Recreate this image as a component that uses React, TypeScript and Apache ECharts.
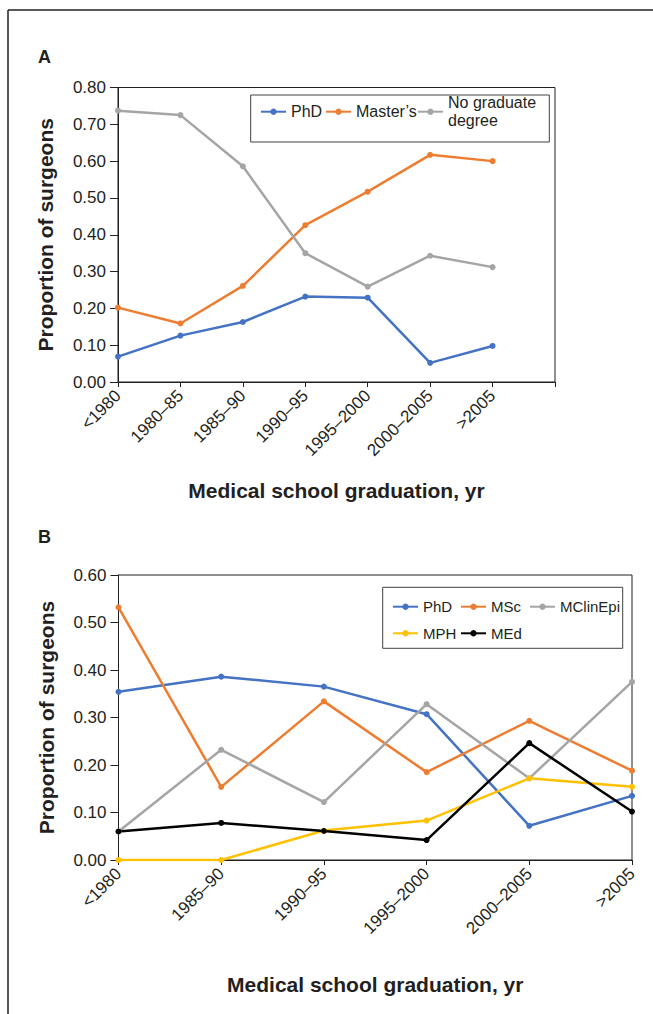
import React, { useEffect, useRef } from 'react';
import * as echarts from 'echarts';

// ---------- Data ----------
const categoriesA = ['<1980', '1980–85', '1985–90', '1990–95', '1995–2000', '2000–2005', '>2005', ''];
const phdA = [0.069, 0.126, 0.163, 0.232, 0.229, 0.052, 0.098];
const mastersA = [0.202, 0.159, 0.261, 0.426, 0.517, 0.617, 0.6];
const noGradA = [0.737, 0.725, 0.586, 0.35, 0.259, 0.343, 0.312];
const seriesNamesA = ['PhD', 'Master’s', 'No graduate degree'];

const categoriesB = ['<1980', '1985–90', '1990–95', '1995–2000', '2000–2005', '>2005'];
const phdB = [0.354, 0.386, 0.365, 0.307, 0.072, 0.135];
const mscB = [0.532, 0.154, 0.334, 0.185, 0.293, 0.188];
const mclinB = [0.06, 0.232, 0.122, 0.328, 0.172, 0.375];
const mphB = [0, 0, 0.062, 0.083, 0.172, 0.154];
const medB = [0.06, 0.078, 0.061, 0.042, 0.246, 0.102];
const seriesNamesB = ['PhD ', 'MSc', 'MClinEpi', 'MPH', 'MEd'];

const yMaxA = 0.8;
const yMaxB = 0.6;
const yStep = 0.1;
const xTitle = 'Medical school graduation, yr';
const yTitle = 'Proportion of surgeons';

// ---------- Styles ----------
const TEXT = '#231f20';
const FONT = '"Liberation Sans", Arial, Helvetica, sans-serif';
const BLUE = '#4472C4';
const ORANGE = '#ED7D31';
const GRAY = '#A5A5A5';
const GOLD = '#FFC000';
const BLACK = '#000000';

function lineSeries(name: string, data: number[], color: string, idx: number) {
  return {
    type: 'line',
    name,
    data,
    xAxisIndex: idx,
    yAxisIndex: idx,
    symbol: 'circle',
    symbolSize: 6,
    showSymbol: true,
    lineStyle: { color, width: 2.5 },
    itemStyle: { color },
    emphasis: { disabled: true },
  };
}

function legendItem(name: string, left: number, top: number, fontSize: number, extra?: any) {
  return {
    data: [extra ? { name, ...extra } : name],
    left,
    top,
    padding: 0,
    itemWidth: 25,
    itemHeight: 8,
    itemGap: 0,
    selectedMode: false,
    textStyle: { color: TEXT, fontSize, fontFamily: FONT, lineHeight: 18 },
  };
}

function xAxisCfg(idx: number, data: string[], nameGap: number) {
  return {
    type: 'category',
    gridIndex: idx,
    data,
    boundaryGap: false,
    axisLine: { show: true, lineStyle: { color: TEXT, width: 1 } },
    axisTick: { show: true, length: 5, interval: 0, lineStyle: { color: TEXT } },
    axisLabel: {
      interval: 0,
      rotate: 45,
      margin: 11,
      padding: [14, 0, 0, 0],
      color: TEXT,
      fontSize: 17,
      fontFamily: FONT,
    },
    splitLine: { show: false },
    name: xTitle,
    nameLocation: 'middle',
    nameGap,
    nameMoveOverlap: false,
    nameTextStyle: { fontSize: 21, fontWeight: 'bold', color: TEXT, fontFamily: FONT },
  };
}

function yAxisCfg(idx: number, max: number) {
  return {
    type: 'value',
    gridIndex: idx,
    min: 0,
    max,
    interval: yStep,
    axisLine: { show: true, lineStyle: { color: TEXT, width: 1 } },
    axisTick: { show: true, length: 8, lineStyle: { color: TEXT } },
    axisLabel: {
      formatter: (v: number) => v.toFixed(2),
      margin: 12,
      color: TEXT,
      fontSize: 17,
      fontFamily: FONT,
    },
    splitLine: { show: false },
    name: yTitle,
    nameLocation: 'middle',
    nameGap: 62,
    nameMoveOverlap: false,
    nameTextStyle: { fontSize: 21, fontWeight: 'bold', color: TEXT, fontFamily: FONT },
  };
}

export default function App() {
  const ref = useRef<HTMLDivElement>(null);

  useEffect(() => {
    if (!ref.current) return;
    const chart = echarts.init(ref.current, undefined, { renderer: 'svg' });
    const option: any = {
      animation: false,
      backgroundColor: '#ffffff',
      textStyle: { fontFamily: FONT },
      title: [
        { text: 'A', left: 38, top: 48, padding: 0, textStyle: { fontSize: 18, fontWeight: 'bold', color: TEXT, fontFamily: FONT } },
        { text: 'B', left: 38, top: 528, padding: 0, textStyle: { fontSize: 18, fontWeight: 'bold', color: TEXT, fontFamily: FONT } },
      ],
      grid: [
        { left: 118, top: 87.5, width: 437, height: 294.5, show: true, borderColor: TEXT, borderWidth: 1, outerBoundsMode: 'none', containLabel: false },
        { left: 118.5, top: 575, width: 513.5, height: 285, show: true, borderColor: TEXT, borderWidth: 1, outerBoundsMode: 'none', containLabel: false },
      ],
      xAxis: [xAxisCfg(0, categoriesA, 98), xAxisCfg(1, categoriesB, 114)],
      yAxis: [yAxisCfg(0, yMaxA), yAxisCfg(1, yMaxB)],
      legend: [
        legendItem(seriesNamesA[0], 260, 102.7, 16),
        legendItem(seriesNamesA[1], 325, 102.7, 16),
        legendItem(seriesNamesA[2], 417, 84.7, 16, {
          textStyle: { padding: [18, 0, 0, 0], lineHeight: 18 },
        }),
        legendItem(seriesNamesB[0], 392, 597.7, 15),
        legendItem(seriesNamesB[1], 460, 597.7, 15),
        legendItem(seriesNamesB[2], 529, 597.7, 15),
        legendItem(seriesNamesB[3], 392, 624.3, 15),
        legendItem(seriesNamesB[4], 460, 624.3, 15),
      ].map((l, i) =>
        i === 2
          ? { ...l, formatter: () => 'No graduate\ndegree' }
          : i === 3
          ? { ...l, formatter: () => 'PhD' }
          : l
      ),
      graphic: [
        { type: 'line', shape: { x1: 8, y1: 10, x2: 660, y2: 10 }, style: { stroke: TEXT, lineWidth: 1.5 }, silent: true },
        { type: 'line', shape: { x1: 8, y1: 10, x2: 8, y2: 1020 }, style: { stroke: TEXT, lineWidth: 1.5 }, silent: true },
        { type: 'rect', shape: { x: 250.7, y: 95, width: 298.6, height: 47 }, style: { fill: 'none', stroke: '#404040', lineWidth: 1 }, silent: true, z: 10 },
        { type: 'rect', shape: { x: 382.7, y: 587.3, width: 240, height: 61 }, style: { fill: 'none', stroke: '#404040', lineWidth: 1 }, silent: true, z: 10 },
      ],
      series: [
        lineSeries(seriesNamesA[0], phdA, BLUE, 0),
        lineSeries(seriesNamesA[1], mastersA, ORANGE, 0),
        lineSeries(seriesNamesA[2], noGradA, GRAY, 0),
        lineSeries(seriesNamesB[0], phdB, BLUE, 1),
        lineSeries(seriesNamesB[1], mscB, ORANGE, 1),
        lineSeries(seriesNamesB[2], mclinB, GRAY, 1),
        lineSeries(seriesNamesB[3], mphB, GOLD, 1),
        lineSeries(seriesNamesB[4], medB, BLACK, 1),
      ],
    };
    chart.setOption(option);
    return () => chart.dispose();
  }, []);

  return (
    <div
      ref={ref}
      style={{ position: 'absolute', left: 0, top: 0, width: 653, height: 1014, background: '#fff' }}
    />
  );
}
